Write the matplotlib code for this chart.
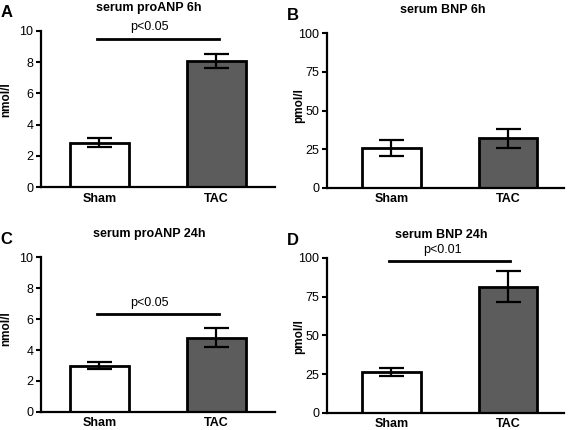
import matplotlib
matplotlib.use('Agg')
import matplotlib.pyplot as plt

plt.rcParams['font.family'] = ['Liberation Sans', 'DejaVu Sans']

# Data
groups = ['Sham', 'TAC']
proanp_6h = [2.85, 8.05]
proanp_6h_err = [0.3, 0.45]
bnp_6h = [25.5, 32.0]
bnp_6h_err = [5.2, 6.0]
proanp_24h = [3.0, 4.8]
proanp_24h_err = [0.22, 0.6]
bnp_24h = [26.5, 81.5]
bnp_24h_err = [2.5, 10.0]

bar_colors = ['white', '#5c5c5c']

panels = [
    # letter, title, values, errors, ylabel, ymax, yticks, sig text, sig level,
    # axes rect, xlim, ylabel coords, title x (fig frac), sig text x
    ('A', 'serum proANP 6h', proanp_6h, proanp_6h_err, 'nmol/l', 10, [0, 2, 4, 6, 8, 10],
     'p<0.05', 9.5, [0.072, 0.565, 0.412, 0.363], (-0.5, 1.5), (-0.121, 0.56), 0.262, 0.43),
    ('B', 'serum BNP 6h', bnp_6h, bnp_6h_err, 'pmol/l', 100, [0, 25, 50, 75, 100],
     None, None, [0.576, 0.563, 0.417, 0.360], (-0.55, 1.48), (-0.094, 0.53), 0.780, 0.44),
    ('C', 'serum proANP 24h', proanp_24h, proanp_24h_err, 'nmol/l', 10, [0, 2, 4, 6, 8, 10],
     'p<0.05', 6.3, [0.072, 0.042, 0.412, 0.360], (-0.5, 1.5), (-0.121, 0.535), 0.262, 0.43),
    ('D', 'serum BNP 24h', bnp_24h, bnp_24h_err, 'pmol/l', 100, [0, 25, 50, 75, 100],
     'p<0.01', 98, [0.576, 0.040, 0.417, 0.360], (-0.55, 1.48), (-0.094, 0.49), 0.776, 0.44),
]

fig = plt.figure(figsize=(5.68, 4.30), dpi=100)

for letter, title, vals, errs, ylab, ymax, yticks, sig, sig_y, rect, xlim, ylab_xy, title_x, sig_x in panels:
    ax = fig.add_axes(rect)
    x = list(range(len(groups)))
    ax.bar(x, vals, width=0.5, color=bar_colors, edgecolor='black', linewidth=2.0, zorder=2)
    ax.errorbar(x, vals, yerr=errs, fmt='none', ecolor='black', elinewidth=1.6,
                capsize=9, capthick=1.6, zorder=3)
    ax.set_xlim(*xlim)
    ax.set_ylim(0, ymax)
    ax.set_yticks(yticks)
    ax.set_xticks(x)
    ax.set_xticklabels(groups, fontweight='bold', fontsize=9)
    ax.tick_params(axis='x', length=0, pad=4)
    ax.tick_params(axis='y', length=3.5, width=1.5, labelsize=9, pad=2)
    for s in ['top', 'right']:
        ax.spines[s].set_visible(False)
    for s in ['left', 'bottom']:
        ax.spines[s].set_linewidth(1.6)
    ax.set_ylabel(ylab, fontweight='bold', fontsize=8.5)
    ax.yaxis.set_label_coords(*ylab_xy)
    if sig is not None:
        ax.plot([-0.02, 1.02], [sig_y, sig_y], color='black', linewidth=2.0, clip_on=False)
        ax.text(sig_x, sig_y + ymax * 0.035, sig, ha='center', va='bottom', fontsize=9)

    # title and panel letter in figure coordinates
    left, bottom, w, h = rect
    top_px = (1 - (bottom + h)) * 430
    fig.text(title_x, 1 - (top_px - 23) / 430, title, ha='center', va='center',
             fontweight='bold', fontsize=9)
    fig.text(left - 0.061, 1 - (top_px - 18) / 430, letter, ha='center', va='center',
             fontweight='bold', fontsize=12)

fig.savefig('out.png', dpi=100)
